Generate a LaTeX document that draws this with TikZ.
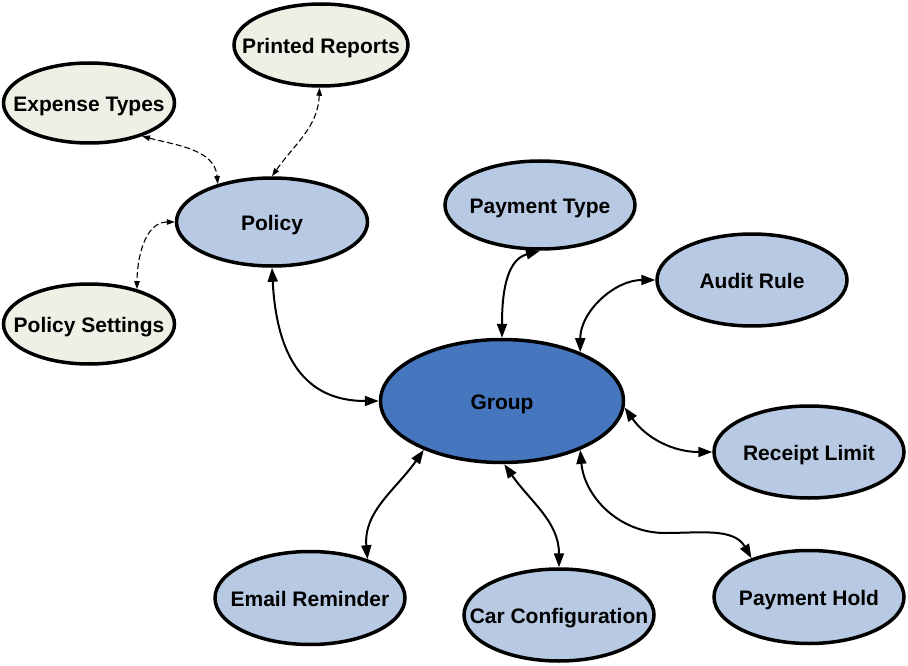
\documentclass[tikz,border=0pt]{standalone}
\usepackage{fontspec}
\setmainfont{Liberation Sans}
\usetikzlibrary{shapes.geometric,arrows.meta}
\definecolor{groupblue}{RGB}{70,119,190}
\definecolor{lightblue}{RGB}{184,202,227}
\definecolor{beige}{RGB}{238,239,229}
\newcommand\ztext[1]{\makebox[0pt][c]{#1}}
\begin{document}
\begin{tikzpicture}[x=1pt,y=1pt,
  bub/.style={ellipse, draw=black, line width=3.5pt, inner sep=0pt,
    text height=17pt, text depth=0pt,
    font=\fontsize{21}{24}\selectfont\bfseries},
  beigebub/.style={bub, fill=beige, minimum width=171pt, minimum height=80pt},
  bluebub/.style={bub, fill=lightblue, minimum width=190pt, minimum height=92pt},
  solidlink/.style={line width=2pt, {Triangle[length=14pt,width=10pt]}-{Triangle[length=14pt,width=10pt]}},
  dashlink/.style={line width=1.1pt, dash pattern=on 6pt off 3pt, {Triangle[length=8pt,width=5.5pt]}-{Triangle[length=8pt,width=5.5pt]}}]
\useasboundingbox (0,0) rectangle (908,-666);

\node[beigebub, minimum width=174pt, minimum height=82pt] (printed) at (321,-45) {\ztext{Printed Reports}};
\node[beigebub] (expense) at (89,-103) {\ztext{Expense Types}};
\node[beigebub] (settings) at (89,-324) {\ztext{Policy Settings}};
\node[bluebub, minimum width=191pt, minimum height=88pt] (policy) at (272,-222) {\ztext{Policy}};
\node[bluebub, minimum height=88pt] (paytype) at (540,-205) {\ztext{Payment Type}};
\node[bluebub] (audit) at (752,-280) {\ztext{Audit Rule}};
\node[bub, fill=groupblue, minimum width=243pt, minimum height=123pt] (group) at (502,-401) {\ztext{Group}};
\node[bluebub] (receipt) at (809,-452) {\ztext{Receipt Limit}};
\node[bluebub, minimum height=93pt] (email) at (310,-598) {\ztext{Email Reminder}};
\node[bluebub] (car) at (559,-615) {\ztext{Car Configuration}};
\node[bluebub, minimum height=93pt] (hold) at (809,-597) {\ztext{Payment Hold}};

\draw[dashlink] (expense.-32) to[out=-15,in=95] (policy.145);
\draw[dashlink] (printed.-92) to[out=-92,in=55] (policy.north);
\draw[dashlink] (policy.west) to[out=180,in=90] (settings.36);

\draw[solidlink] (policy.south) to[out=-87,in=180,looseness=1.2] (group.west);
\draw[solidlink] (group.north) to[out=90,in=195] (paytype.south);
\draw[solidlink] (group.32) to[out=90,in=180] (audit.west);
\draw[solidlink] (group.-3) to[out=-55,in=180] (receipt.west);
\draw[solidlink] (group.212) to[out=-125,in=95] (email.34);
\draw[solidlink] (group.-88) to[out=-55,in=90] (car.north);
\coordinate (holdbend) at (665,-533);
\draw[solidlink] (group.-32) to[out=-85,in=180] (holdbend) to[out=0,in=120] (hold.146);
\end{tikzpicture}
\end{document}
